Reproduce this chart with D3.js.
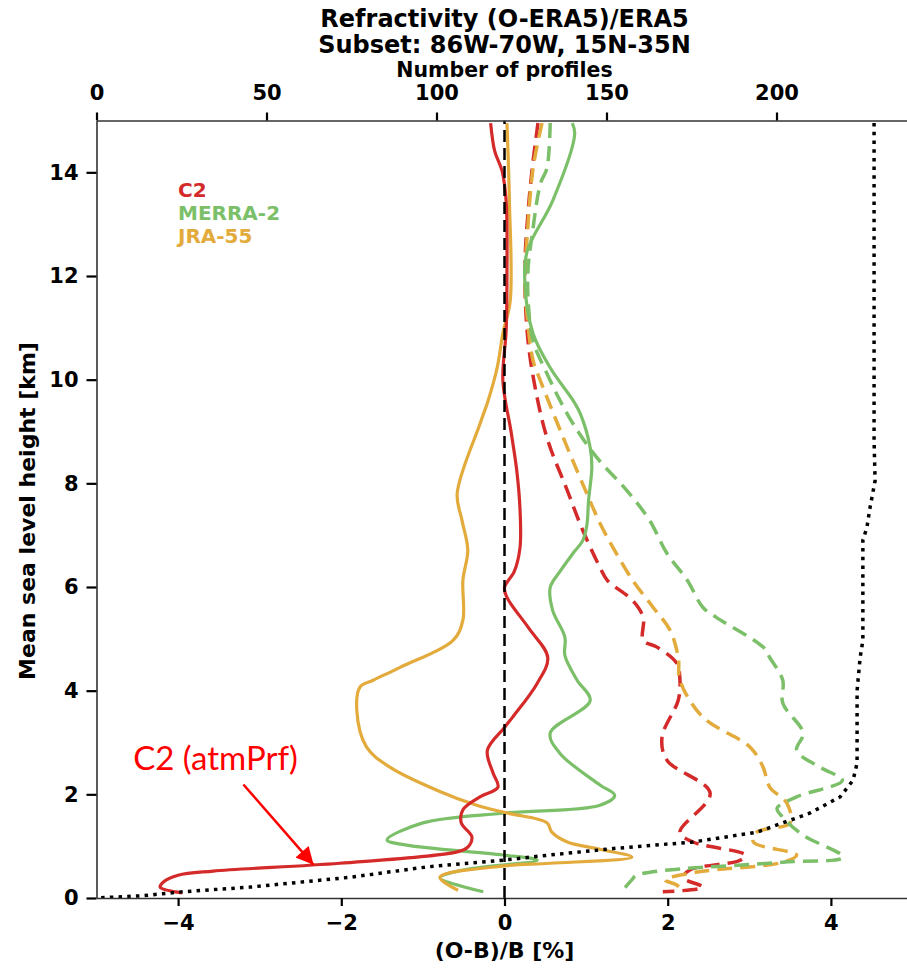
<!DOCTYPE html>
<html>
<head>
<meta charset="utf-8">
<script src="https://cdn.jsdelivr.net/npm/d3@7/dist/d3.min.js"></script>
<style>
  body { margin: 0; background: #fff; }
  text { font-family: "DejaVu Sans", sans-serif; font-weight: bold; }
</style>
</head>
<body>
<script>
// values: [ (O-B)/B in %, height in km ]
var c2Mean = [[-0.17,14.95],[-0.12,14.41],[-0.03,14.03],[0.02,13.45],[0.03,12.0],[0.02,10.94],[-0.02,9.98],[0.08,9.0],
  [0.15,8.25],[0.19,7.5],[0.19,6.76],[0.12,6.3],[0.0,5.99],[0.03,5.8],[0.3,5.2],[0.53,4.64],[0.4,4.14],[0.1,3.49],
  [0.0,3.29],[-0.21,2.85],[-0.14,2.41],[-0.08,2.14],[-0.3,1.95],[-0.51,1.7],[-0.53,1.45],[-0.4,1.18],[-0.45,0.98],
  [-0.58,0.89],[-2.02,0.67],[-3.57,0.52],[-4.0,0.44],[-4.18,0.31],[-4.22,0.21],[-3.95,0.1]];

var merra2Mean = [[0.83,14.95],[0.86,14.74],[0.59,13.45],[0.28,12.49],[0.25,11.85],[0.35,10.89],[0.56,10.23],[0.84,9.6],
  [0.93,9.34],[1.05,8.69],[1.07,8.3],[1.03,7.67],[1.01,7.2],[0.96,6.9],[0.84,6.65],[0.68,6.3],[0.56,5.99],[0.59,5.55],
  [0.74,5.03],[0.74,4.68],[0.89,4.2],[1.05,3.81],[0.56,3.18],[0.68,2.79],[1.17,2.18],[1.35,1.98],[1.17,1.79],[0.0,1.64],
  [-1.0,1.45],[-1.44,1.12],[-1.2,1.02],[-0.02,0.83],[0.4,0.73],[-0.51,0.54],[-0.79,0.39],[-0.26,0.12]];

var jra55Mean = [[0.03,14.95],[0.06,13.45],[0.07,11.52],[-0.02,10.89],[-0.09,10.23],[-0.2,9.6],[-0.3,9.15],[-0.58,7.8],
  [-0.52,7.28],[-0.45,6.71],[-0.51,6.13],[-0.51,5.36],[-0.63,4.97],[-1.28,4.45],[-1.61,4.2],[-1.77,4.07],[-1.81,3.62],
  [-1.69,2.91],[-1.4,2.52],[-0.83,2.08],[-0.34,1.79],[0.03,1.64],[0.52,1.45],[0.58,1.27],[0.77,1.08],[1.17,0.94],
  [1.56,0.79],[0.56,0.67],[0.0,0.62],[-0.79,0.4],[-0.57,0.15]];

var c2Std = [[0.41,14.95],[0.34,14.08],[0.29,13.26],[0.25,12.16],[0.28,10.89],[0.36,9.98],[0.52,8.88],[0.77,7.86],
  [0.96,7.09],[1.17,6.38],[1.26,6.13],[1.57,5.74],[1.7,5.41],[1.7,4.97],[1.87,4.84],[2.11,4.53],[2.15,4.2],[2.13,3.82],
  [1.93,3.1],[1.99,2.66],[2.52,2.02],[2.15,1.27],[2.31,1.08],[2.95,0.83],[2.89,0.73],[2.27,0.54],[2.19,0.39],
  [2.43,0.21],[1.94,0.12]];

var merra2Std = [[0.56,14.95],[0.52,14.08],[0.44,13.78],[0.34,12.81],[0.29,12.16],[0.29,11.52],[0.35,10.75],[0.52,10.12],
  [0.68,9.6],[0.84,9.15],[1.13,8.5],[1.5,7.86],[1.78,7.28],[1.99,6.65],[2.24,6.13],[2.43,5.61],[2.6,5.41],[3.17,4.84],
  [3.25,4.64],[3.41,4.2],[3.41,3.76],[3.66,3.18],[3.58,2.85],[3.87,2.52],[4.14,2.27],[3.58,1.95],[3.34,1.73],[3.41,1.56],
  [3.66,1.21],[4.15,0.79],[3.41,0.69],[1.62,0.44],[1.56,0.35],[1.45,0.15]];

var jra55Std = [[0.46,14.95],[0.35,14.08],[0.28,12.81],[0.25,11.97],[0.28,11.19],[0.35,10.37],[0.44,9.98],[0.77,8.69],
  [1.01,7.8],[1.17,7.23],[1.33,6.76],[1.57,6.13],[1.82,5.61],[2.03,5.16],[2.13,4.64],[2.15,4.2],[2.43,3.49],[3.01,2.91],
  [3.17,2.52],[3.25,2.14],[3.46,1.83],[3.5,1.45],[3.09,1.27],[3.05,1.08],[3.58,0.83],[3.41,0.69],[2.36,0.5],[1.97,0.35],
  [2.11,0.25],[2.19,0.12]];

// number of profiles (top axis): [count, height in km]
var profiles = [[228.7,14.95],[228.7,8.82],[229,8.05],[227.5,7.53],[226.6,7.15],[225.4,6.9],[225.4,4.97],[224.6,4.64],
  [223.7,4.0],[223.7,2.6],[222.5,2.27],[218.7,1.95],[209.9,1.64],[194.3,1.27],[175.4,1.08],[153,0.96],[133.4,0.83],
  [119.6,0.73],[97.2,0.6],[74.6,0.4],[45.1,0.21],[25.4,0.12],[12.8,0.04],[0,0]];

var zeroLine = [[0,0],[0,15]];

var xTicks = [-4, -2, 0, 2, 4];
var topTicks = [0, 50, 100, 150, 200];
var yTicks = [0, 2, 4, 6, 8, 10, 12, 14];

var legendNames = ["C2", "MERRA-2", "JRA-55"];
var colors = {c2: "#d42a2a", merra2: "#7cbf69", jra55: "#e3aa3c"};

// annotation, in data units
var noteText = {x: -4.55, y: 2.46};
var noteArrow = [[-3.2, 2.19], [-2.34, 0.64]];

var W = 907, H = 968;
var svg = d3.select("body").append("svg")
    .attr("width", W)
    .attr("height", H);

var x = d3.scaleLinear().domain([-5, 5]).range([96.5, 912.5]);
var xTop = d3.scaleLinear().domain([0, 240]).range([96.5, 912.5]);
var y = d3.scaleLinear().domain([0, 15]).range([898, 120.5]);

svg.append("clipPath").attr("id", "plot")
  .append("rect")
    .attr("x", 96.5).attr("y", 120.5)
    .attr("width", 816).attr("height", 777.5);

var plot = svg.append("g").attr("clip-path", "url(#plot)");

var line = d3.line()
    .x(function(d) { return x(d[0]); })
    .y(function(d) { return y(d[1]); })
    .curve(d3.curveCatmullRom.alpha(0.5));

var lineTop = d3.line()
    .x(function(d) { return xTop(d[0]); })
    .y(function(d) { return y(d[1]); });

// dashed spreads first, then means
[[c2Std, colors.c2], [jra55Std, colors.jra55], [merra2Std, colors.merra2]].forEach(function(s) {
  plot.append("path")
      .datum(s[0])
      .attr("d", line)
      .attr("fill", "none")
      .attr("stroke", s[1])
      .attr("stroke-width", 3.5)
      .attr("stroke-dasharray", "15,8");
});

[[merra2Mean, colors.merra2], [jra55Mean, colors.jra55], [c2Mean, colors.c2]].forEach(function(s) {
  plot.append("path")
      .datum(s[0])
      .attr("d", line)
      .attr("fill", "none")
      .attr("stroke", s[1])
      .attr("stroke-width", 3.2)
      .attr("stroke-linejoin", "round");
});

plot.append("path")
    .datum(zeroLine)
    .attr("d", d3.line().x(function(d) { return x(d[0]); }).y(function(d) { return y(d[1]); }))
    .attr("stroke", "#000")
    .attr("stroke-width", 2.5)
    .attr("stroke-dasharray", "12,6");

plot.append("path")
    .datum(profiles)
    .attr("d", lineTop)
    .attr("fill", "none")
    .attr("stroke", "#000")
    .attr("stroke-width", 3.5)
    .attr("stroke-dasharray", "3.5,5.2");

// axes
function styleAxis(g) {
  g.select(".domain").attr("stroke", "#333").attr("stroke-width", 1.6);
  g.selectAll(".tick line").attr("stroke", "#000").attr("stroke-width", 2.2);
  g.selectAll(".tick text").attr("fill", "#000").style("font-size", "21px");
}

svg.append("g")
    .attr("transform", "translate(0,898)")
    .call(d3.axisBottom(x).tickValues(xTicks).tickSize(8).tickPadding(9).tickSizeOuter(0))
    .call(styleAxis);

svg.append("g")
    .attr("transform", "translate(0,120.5)")
    .call(d3.axisTop(xTop).tickValues(topTicks).tickSize(8).tickPadding(13).tickSizeOuter(0))
    .call(styleAxis);

svg.append("g")
    .attr("transform", "translate(96.5,0)")
    .call(d3.axisLeft(y).tickValues(yTicks).tickSize(10).tickPadding(8).tickSizeOuter(0))
    .call(styleAxis);

// titles and labels
svg.append("text").attr("x", 504.5).attr("y", 27).attr("text-anchor", "middle")
    .style("font-size", "24px").text("Refractivity (O-ERA5)/ERA5");
svg.append("text").attr("x", 504.5).attr("y", 52.5).attr("text-anchor", "middle")
    .style("font-size", "24px").text("Subset: 86W-70W, 15N-35N");
svg.append("text").attr("x", 504.5).attr("y", 77).attr("text-anchor", "middle")
    .style("font-size", "20.5px").text("Number of profiles");
svg.append("text").attr("x", 504.5).attr("y", 958).attr("text-anchor", "middle")
    .style("font-size", "22px").text("(O-B)/B [%]");
svg.append("text")
    .attr("transform", "translate(35,511) rotate(-90)")
    .attr("text-anchor", "middle")
    .style("font-size", "22px").text("Mean sea level height [km]");

// legend
var legendColors = [colors.c2, colors.merra2, colors.jra55];
svg.selectAll(".leg").data(legendNames).enter().append("text")
    .attr("class", "leg")
    .attr("x", 178)
    .attr("y", function(d, i) { return 197 + i * 23; })
    .attr("fill", function(d, i) { return legendColors[i]; })
    .style("font-size", "20px")
    .text(function(d) { return d; });

// red annotation
svg.append("defs").append("marker")
    .attr("id", "head")
    .attr("viewBox", "0 0 10 10")
    .attr("refX", 10).attr("refY", 5)
    .attr("markerWidth", 8).attr("markerHeight", 7)
    .attr("markerUnits", "strokeWidth")
    .attr("orient", "auto")
  .append("path").attr("d", "M0,0L10,5L0,10Z").attr("fill", "#ff0000");

svg.append("line")
    .attr("x1", x(noteArrow[0][0])).attr("y1", y(noteArrow[0][1]))
    .attr("x2", x(noteArrow[1][0])).attr("y2", y(noteArrow[1][1]))
    .attr("stroke", "#ff0000")
    .attr("stroke-width", 2.5)
    .attr("marker-end", "url(#head)");

svg.append("text")
    .attr("x", x(noteText.x)).attr("y", y(noteText.y))
    .attr("fill", "#ff0000")
    .style("font-family", "Lato, 'Open Sans', sans-serif")
    .style("font-weight", "normal")
    .style("font-size", "33px")
    .text("C2 (atmPrf)");
</script>
</body>
</html>
